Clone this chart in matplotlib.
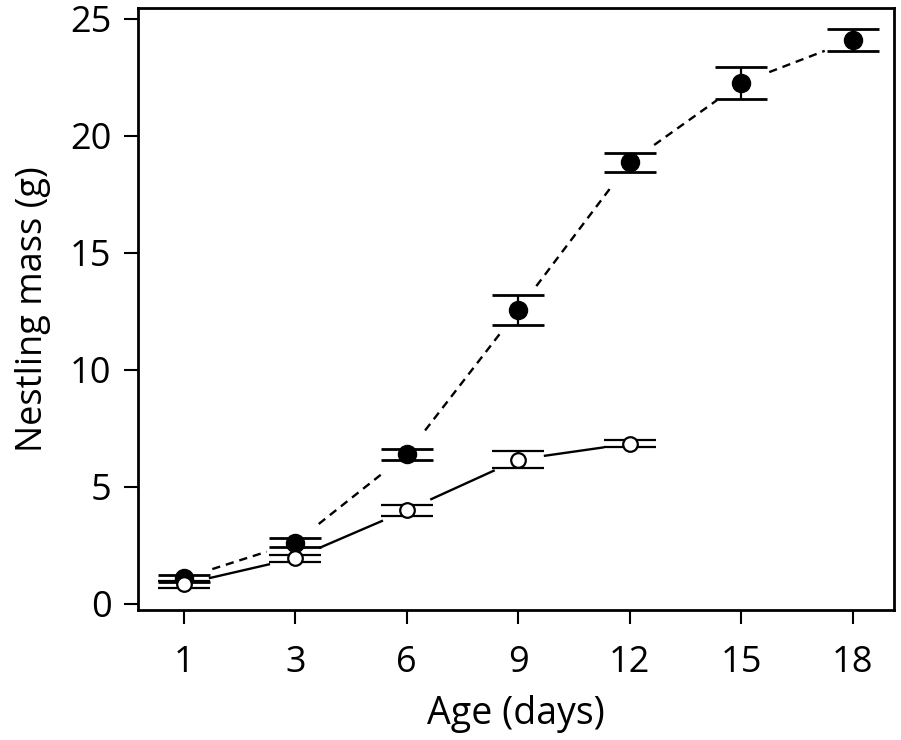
import matplotlib
matplotlib.use("Agg")
import matplotlib.pyplot as plt
import numpy as np

plt.rcParams['font.family'] = ['Open Sans', 'DejaVu Sans']

# Data
ages = ['1', '3', '6', '9', '12', '15', '18']
filled_mean = [1.1, 2.62, 6.4, 12.56, 18.87, 22.27, 24.1]
filled_err = [0.15, 0.2, 0.23, 0.64, 0.42, 0.69, 0.46]
open_mean = [0.85, 1.95, 4.0, 6.17, 6.85]
open_err = [0.15, 0.14, 0.23, 0.35, 0.15]

fig = plt.figure(figsize=(9.01, 7.40), dpi=100)
ax = fig.add_axes([138 / 901, 1 - 610 / 740, (894 - 138) / 901, (610 - 8) / 740])
ax.set_xlim(-0.41, 6.37)
ax.set_ylim(-0.26, 25.47)

xf = np.arange(len(filled_mean))
xo = np.arange(len(open_mean))


def gapped_line(x, y, gap, **kw):
    # centre-to-centre segments, cut back by `gap` pixels at each end
    pts = ax.transData.transform(np.column_stack([x, y]))
    inv = ax.transData.inverted()
    for i in range(len(pts) - 1):
        d = pts[i + 1] - pts[i]
        u = d / np.hypot(*d)
        seg = inv.transform([pts[i] + u * gap, pts[i + 1] - u * gap])
        ax.plot(seg[:, 0], seg[:, 1], color='black', zorder=2, **kw)


gapped_line(xf, filled_mean, 30, lw=1.7, ls=(0, (3.5, 2.5)))
gapped_line(xo, open_mean, 27, lw=1.7, ls='-')

ax.errorbar(xf, filled_mean, yerr=filled_err, fmt='o', color='black', ms=13,
            mfc='black', mec='black', ecolor='black', elinewidth=1.6,
            capsize=18.5, capthick=2, zorder=3)
ax.errorbar(xo, open_mean, yerr=open_err, fmt='o', color='black', ms=10.5,
            mfc='white', mec='black', mew=1.6, ecolor='black', elinewidth=1.6,
            capsize=18.5, capthick=2, zorder=4)

ax.set_xticks(xf)
ax.set_xticklabels(ages)
ax.set_yticks([0, 5, 10, 15, 20, 25])

for s in ax.spines.values():
    s.set_linewidth(2)
ax.tick_params(axis='both', direction='out', length=10, width=1.5, labelsize=26)
ax.tick_params(axis='y', pad=9)
ax.tick_params(axis='x', pad=15)
ax.set_xlabel('Age (days)', fontsize=27, labelpad=10)
ax.set_ylabel('Nestling mass (g)', fontsize=26, labelpad=14)

fig.savefig('out.png', dpi=100)
